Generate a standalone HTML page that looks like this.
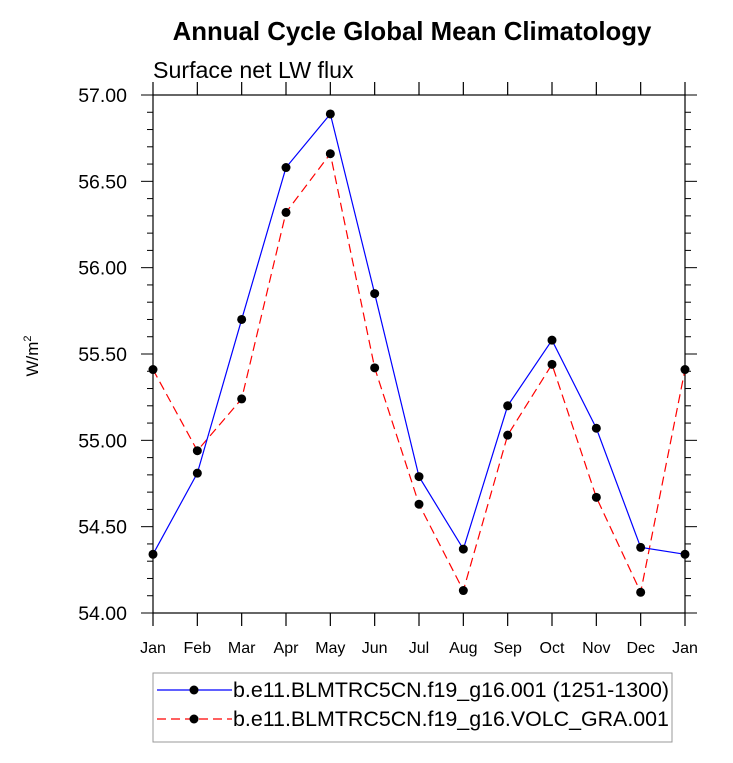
<!DOCTYPE html>
<html><head><meta charset="utf-8"><style>
body{margin:0;background:#fff;}
svg{display:block;font-family:"Liberation Sans",Arial,sans-serif;}
</style></head><body>
<svg id="c" width="733" height="763">
<text x="412" y="40" text-anchor="middle" font-size="25.8" font-weight="bold">Annual Cycle Global Mean Climatology</text>
<text x="153" y="78" font-size="23.2">Surface net LW flux</text>
<text transform="translate(38,356) rotate(-90)" text-anchor="middle" font-size="17">W/m<tspan font-size="11" dy="-7">2</tspan></text>
<g id="axes"></g><g id="series"></g>
<g>
<rect x="153" y="673" width="519" height="69" fill="#fff" stroke="#999" stroke-width="1"/>
<line x1="157" y1="690" x2="232" y2="690" stroke="#0000ff" stroke-width="1.2"/>
<circle cx="194" cy="690" r="4.5" fill="#000"/>
<text x="233" y="697" font-size="21.4">b.e11.BLMTRC5CN.f19_g16.001 (1251-1300)</text>
<line x1="157" y1="719" x2="232" y2="719" stroke="#ff0000" stroke-width="1.2" stroke-dasharray="9,5"/>
<circle cx="194" cy="719" r="4.5" fill="#000"/>
<text x="233" y="726" font-size="21.4">b.e11.BLMTRC5CN.f19_g16.VOLC_GRA.001</text>
</g>
</svg>
<script>
const months=["Jan","Feb","Mar","Apr","May","Jun","Jul","Aug","Sep","Oct","Nov","Dec","Jan"];
const blueVals=[54.34,54.81,55.70,56.58,56.89,55.85,54.79,54.37,55.20,55.58,55.07,54.38,54.34];
const redVals=[55.41,54.94,55.24,56.32,56.66,55.42,54.63,54.13,55.03,55.44,54.67,54.12,55.41];
const yTicks=["54.00","54.50","55.00","55.50","56.00","56.50","57.00"];
const L=153,R=685,T=95,B=613,ymin=54,ymax=57;
const xs=i=>L+(R-L)*i/(months.length-1);
const ys=v=>B-(v-ymin)/(ymax-ymin)*(B-T);
const NS="http://www.w3.org/2000/svg";
function mk(t,a,p){const e=document.createElementNS(NS,t);for(const k in a)e.setAttribute(k,a[k]);p.appendChild(e);return e;}
const ax=document.getElementById('axes');
const fr=mk('rect',{x:L,y:T,width:R-L,height:B-T,fill:'none',stroke:'#000','stroke-width':1.2},ax);


months.forEach((m,i)=>{
 const x=xs(i);
 mk('line',{x1:x,y1:B,x2:x,y2:B+13,stroke:'#000','stroke-width':1.2},ax);
 mk('line',{x1:x,y1:T,x2:x,y2:T-13,stroke:'#000','stroke-width':1.2},ax);
 const t=mk('text',{x:x,y:B+40,'text-anchor':'middle','font-size':16},ax);t.textContent=m;
 
 
});
for(let k=0;k<=30;k++){
 const v=ymin+k*0.1,y=ys(v),maj=k%5===0,len=maj?12:6;
 mk('line',{x1:L,y1:y,x2:L-len,y2:y,stroke:'#000','stroke-width':1},ax);
 mk('line',{x1:R,y1:y,x2:R+len,y2:y,stroke:'#000','stroke-width':1},ax);
}
yTicks.forEach(s=>{
 const t=mk('text',{x:L-26,y:ys(parseFloat(s))+7,'text-anchor':'end','font-size':19.5},ax);t.textContent=s;
 
 
});
const sg=document.getElementById('series');
function draw(vals,col,dash,name){
 const pts=vals.map((v,i)=>xs(i)+','+ys(v)).join(' ');
 const pl=mk('polyline',{points:pts,fill:'none',stroke:col,'stroke-width':1.2,'stroke-dasharray':dash},sg);
 
 
 vals.forEach((v,i)=>{const c=mk('circle',{cx:xs(i),cy:ys(v),r:4.5,fill:'#000'},sg);
  
  });
}
draw(redVals,'#ff0000','9,5','red-series');
draw(blueVals,'#0000ff','none','blue-series');
</script>
</body></html>
